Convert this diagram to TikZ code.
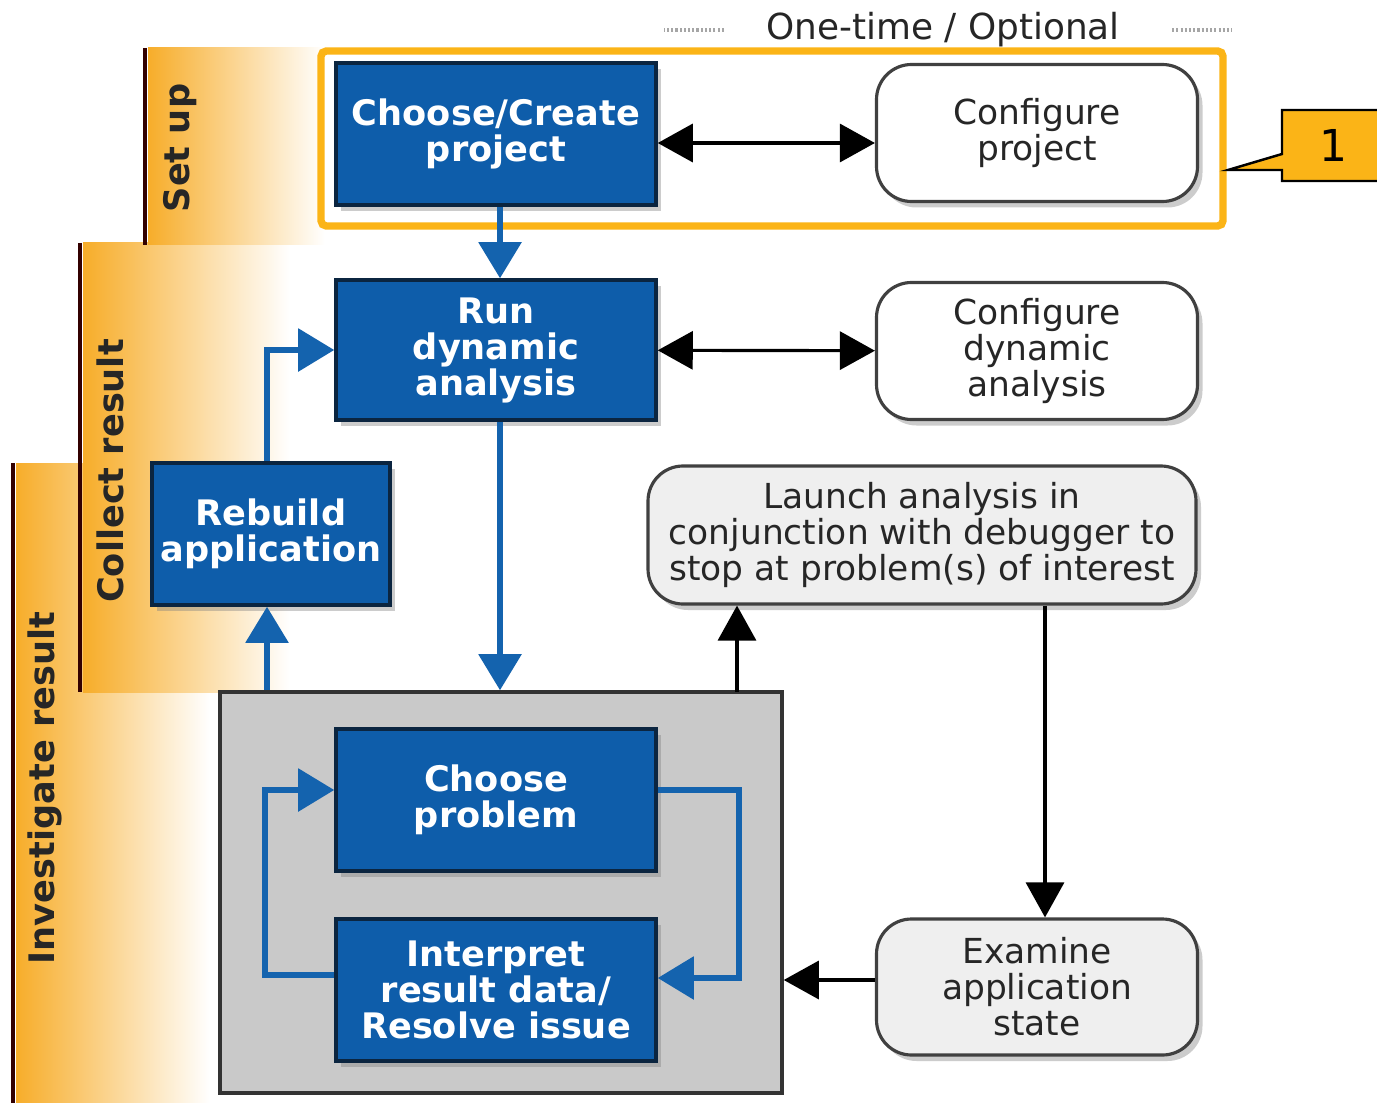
\documentclass[tikz,border=0pt]{standalone}
\usepackage{fontspec}
\setmainfont{DejaVu Sans}
\usepackage{tikz}
\usetikzlibrary{arrows.meta,shadows}

\definecolor{boxblue}{HTML}{0E5DAA}
\definecolor{boxedge}{HTML}{0B2540}
\definecolor{bandorange}{HTML}{F7AD2A}
\definecolor{hiorange}{HTML}{FBB417}
\definecolor{panelgray}{HTML}{C9C9C9}
\definecolor{softgray}{HTML}{EFEFEF}
\definecolor{linkblue}{HTML}{1463AE}

\begin{document}
\begin{tikzpicture}[
    bluebox/.style={rectangle,draw=boxedge,line width=1pt,fill=boxblue,text=white,
        font=\bfseries\fontsize{10}{10.24}\selectfont,align=center,
        minimum width=3.2cm,minimum height=1.42cm,inner sep=0pt,
        drop shadow={shadow xshift=0.05cm,shadow yshift=-0.06cm,opacity=0.4}},
    roundbox/.style={rectangle,rounded corners=0.35cm,draw=black!75,line width=0.9pt,
        fill=white,text=black!85,font=\fontsize{9.8}{10.24}\selectfont,align=center,
        minimum width=3.21cm,minimum height=1.37cm,inner sep=0pt,
        drop shadow={shadow xshift=0.05cm,shadow yshift=-0.06cm,opacity=0.4}},
    bluelink/.style={draw=linkblue,line width=1.6pt,>={Triangle[length=0.36cm,width=0.42cm]}},
    blacklink/.style={draw=black,line width=0.9pt,>={Triangle[length=0.35cm,width=0.38cm]}},
    bandtext/.style={rotate=90,font=\bfseries\fontsize{10}{12}\selectfont,text=black!85},
    bandline/.style={line width=1.1pt,draw=black!80!red}
]
    \fill[white] (0,0) rectangle (13.77,-11.03);
    \useasboundingbox (0,0) rectangle (13.77,-11.03);

    % phase bands
    \shade[left color=bandorange,right color=white] (0.16,-4.63) rectangle (2.10,-11.03);
    \shade[left color=bandorange,right color=white] (0.83,-2.43) rectangle (2.90,-6.92);
    \shade[left color=bandorange,right color=white] (1.48,-0.48) rectangle (3.25,-2.45);
    \draw[bandline] (1.45,-0.48) -- (1.45,-2.45);
    \draw[bandline] (0.80,-2.43) -- (0.80,-6.92);
    \draw[bandline] (0.13,-4.63) -- (0.13,-11.03);

    \node[bandtext] (setup) at (1.80,-1.48) {Set up};
    \node[bandtext] (collect) at (1.10,-4.71) {Collect result};
    \node[bandtext] (invest) at (0.45,-7.88) {Investigate result};

    % one-time column header
    \node[font=\fontsize{10.2}{12}\selectfont,text=black!85] (optional) at (9.43,-0.30) {One-time / Optional};
    \draw[black!35,line width=1.1pt,dash pattern=on 0.6pt off 0.6pt] ([xshift=-0.30cm]optional.west) -- ++(-0.60,0);
    \draw[black!35,line width=1.1pt,dash pattern=on 0.6pt off 0.6pt] ([xshift=0.40cm]optional.east) -- ++(0.60,0);

    % highlight and callout
    \draw[hiorange,line width=2.1pt,rounded corners=1.5pt] (3.21,-0.51) rectangle (12.23,-2.26);
    \draw[fill=hiorange,draw=black,line width=0.7pt] (12.82,-1.10) -- (12.82,-1.54) -- (12.28,-1.70)
        -- (12.82,-1.70) -- (12.82,-1.81) -- (13.95,-1.81) -- (13.95,-1.10) -- cycle;
    \node[font=\fontsize{12.5}{14}\selectfont,text=black] (one) at (13.33,-1.45) {1};

    % investigation panel
    \node[rectangle,draw=black!80,line width=1pt,fill=panelgray,minimum width=5.62cm,
        minimum height=4.01cm,inner sep=0pt] (panel) at (5.01,-8.925) {};

    \node[bluebox] (create) at (4.96,-1.34) {Choose/Create\\project};
    \node[bluebox,minimum height=1.40cm] (run) at (4.96,-3.50) {Run\\dynamic\\analysis};
    \node[bluebox,minimum width=2.38cm] (rebuild) at (2.71,-5.34) {Rebuild\\application};
    \node[bluebox] (pick) at (4.96,-8.00) {Choose\\problem};
    \node[bluebox] (interp) at (4.96,-9.90) {Interpret\\result data/\\Resolve issue};

    \node[roundbox] (cfgproj) at (10.37,-1.33) {Configure\\project};
    \node[roundbox] (cfgdyn) at (10.37,-3.51) {Configure\\dynamic\\analysis};
    \node[roundbox,fill=softgray,minimum width=5.48cm,minimum height=1.38cm] (launch) at (9.22,-5.35)
        {Launch analysis in\\conjunction with debugger to\\stop at problem(s) of interest};
    \node[roundbox,fill=softgray,minimum height=1.36cm] (examine) at (10.37,-9.87) {Examine\\application\\state};

    \draw[blacklink,<->] ([yshift=-0.09cm]create.east) -- ([yshift=-0.09cm]create.east -| cfgproj.west);
    \draw[blacklink,<->] (run) -- (cfgdyn);
    \draw[bluelink,->] ([xshift=0.04cm]create.south) -- ([xshift=0.04cm]run.north);
    \draw[bluelink,->] ([xshift=0.04cm]run.south) -- ([xshift=0.04cm]run.south |- panel.north);
    \draw[bluelink,->] ([xshift=-0.04cm]rebuild.south |- panel.north) -- ([xshift=-0.04cm]rebuild.south);
    \draw[bluelink,->] ([xshift=-0.04cm]rebuild.north) |- (run.west);

    \coordinate (up) at (7.37,-6.92);
    \draw[blacklink,->] (up) -- (up |- launch.south);
    \draw[blacklink,->] ([xshift=0.08cm]examine.north |- launch.south) -- ([xshift=0.08cm]examine.north);
    \draw[blacklink,->] ([yshift=0.07cm]examine.west) -- ([yshift=0.07cm]examine.west -| panel.east);

    \draw[bluelink,->] ([yshift=0.15cm]interp.west) -- ++(-0.69,0) |- ([yshift=0.1cm]pick.west);
    \draw[bluelink,->] ([yshift=0.1cm]pick.east) -- ++(0.81,0) |- ([yshift=0.12cm]interp.east);
\end{tikzpicture}
\end{document}
